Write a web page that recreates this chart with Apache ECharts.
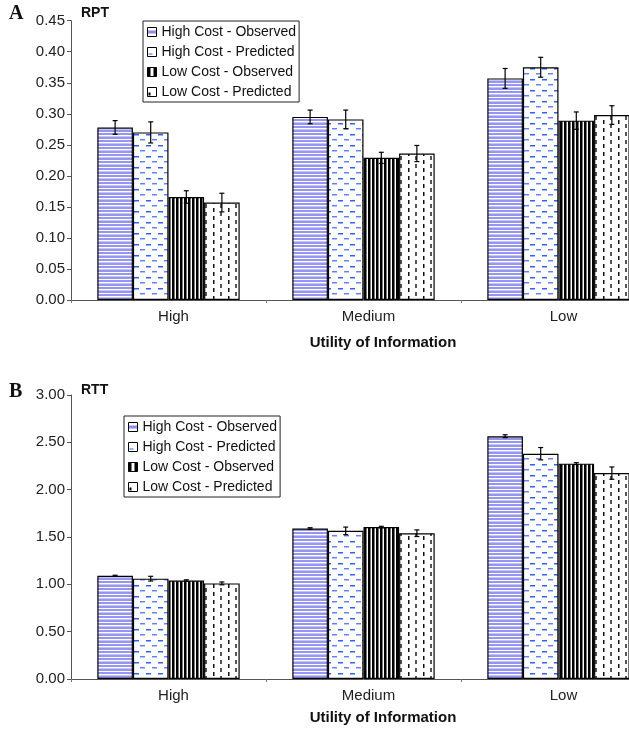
<!DOCTYPE html>
<html>
<head>
<meta charset="utf-8">
<script src="https://cdn.jsdelivr.net/npm/echarts@6/dist/echarts.min.js"></script>
<style>html,body{margin:0;padding:0;background:#fff;overflow:hidden;width:629px;height:730px;}#c{width:660px;height:730px;}</style>
</head>
<body>
<div id="c"></div>
<script>
// ---- data ----
const categories = ['High', 'Medium', 'Low'];
const seriesNames = ['High Cost - Observed', 'High Cost - Predicted', 'Low Cost - Observed', 'Low Cost - Predicted'];
const rptTicksMax = 0.45, rptInterval = 0.05;
const rttTicksMax = 3.0, rttInterval = 0.5;

const rptHCO = [0.278, 0.295, 0.357];
const rptHCP = [0.270, 0.291, 0.375];
const rptLCO = [0.166, 0.229, 0.289];
const rptLCP = [0.157, 0.236, 0.298];
const rptHCOerr = [0.011, 0.011, 0.016];
const rptHCPerr = [0.017, 0.015, 0.016];
const rptLCOerr = [0.010, 0.009, 0.014];
const rptLCPerr = [0.015, 0.013, 0.015];

const rttHCO = [1.09, 1.59, 2.565];
const rttHCP = [1.06, 1.565, 2.38];
const rttLCO = [1.04, 1.605, 2.275];
const rttLCP = [1.01, 1.54, 2.175];
const rttHCOerr = [0.006, 0.008, 0.015];
const rttHCPerr = [0.025, 0.04, 0.065];
const rttLCOerr = [0.008, 0.008, 0.010];
const rttLCPerr = [0.015, 0.035, 0.065];

// ---- patterns ----
function mk(w, h, draw) {
  const c = document.createElement('canvas');
  c.width = w; c.height = h;
  const g = c.getContext('2d');
  g.fillStyle = '#fff'; g.fillRect(0, 0, w, h);
  draw(g);
  return { image: c, repeat: 'repeat' };
}
const patHCO = mk(4, 7, g => {
  g.fillStyle = '#9696f0'; g.fillRect(0, 0, 4, 2); g.fillRect(0, 4, 4, 2);
  g.fillStyle = '#c4c4f8'; g.fillRect(0, 3, 4, 1);
});
const patHCP = mk(12, 11, g => {
  g.fillStyle = '#2f62f5'; g.fillRect(2, 2, 5, 1);
  g.fillStyle = '#9ab0ff'; g.fillRect(2, 3, 5, 1);
  g.fillStyle = '#5f82ff'; g.fillRect(8, 7, 4, 1); g.fillRect(0, 7, 1, 1);
  g.fillStyle = '#b4c4ff'; g.fillRect(8, 8, 4, 1); g.fillRect(0, 8, 1, 1);
});
const patLCO = mk(4, 1, g => { g.fillStyle = '#000'; g.fillRect(0, 0, 2, 1); g.fillStyle = '#777'; g.fillRect(2, 0, 1, 1); });
const patLCP = mk(15, 8, g => {
  g.fillStyle = '#111'; g.fillRect(3, 0, 1, 4);
  g.fillStyle = '#888'; g.fillRect(4, 0, 1, 4);
  g.fillStyle = '#555'; g.fillRect(10, 4, 2, 4);
});
const patterns = [patHCO, patHCP, patLCO, patLCP];

// legend icon swatches
const icoHCO = mk(9, 9, g => { g.fillStyle = '#8c8cf0'; g.fillRect(0, 3, 9, 3); });
const icoHCP = mk(9, 9, g => { g.fillStyle = '#2f62f5'; g.fillRect(1, 6, 4, 1); });
const icoLCO = mk(9, 9, g => { g.fillStyle = '#000'; g.fillRect(0, 0, 9, 9); g.fillStyle = '#fff'; g.fillRect(3, 0, 3, 9); });
const icoLCP = mk(9, 9, g => { g.fillStyle = '#000'; g.fillRect(1, 5, 2, 3); });
const icons = [icoHCO, icoHCP, icoLCO, icoLCP];

const rpt = [rptHCO, rptHCP, rptLCO, rptLCP];
const rptErr = [rptHCOerr, rptHCPerr, rptLCOerr, rptLCPerr];
const rtt = [rttHCO, rttHCP, rttLCO, rttLCP];
const rttErr = [rttHCOerr, rttHCPerr, rttLCOerr, rttLCPerr];

const GAP = 0.27;
const font = 'Liberation Sans, Arial, Helvetica, sans-serif';

function errSeries(idx, vals, errs) {
  const data = [];
  for (let s = 0; s < 4; s++) for (let c = 0; c < 3; c++) data.push([c, vals[s][c], errs[s][c], s]);
  return {
    type: 'custom', name: 'err' + idx, xAxisIndex: idx, yAxisIndex: idx, z: 10,
    encode: { x: 0, y: 1 },
    data: data,
    renderItem: function (params, api) {
      const c = api.value(0), v = api.value(1), e = api.value(2), s = api.value(3);
      const band = api.size([1, 0])[0];
      const bw = band * (1 - GAP) / 4;
      const off = -bw * 2 + bw * (s + 0.5);
      const top = api.coord([c, v + e]);
      const bot = api.coord([c, v - e]);
      const x = top[0] + off;
      const hw = 2.5;
      const st = { stroke: '#000', lineWidth: 1.2 };
      return {
        type: 'group', children: [
          { type: 'line', shape: { x1: x, y1: top[1], x2: x, y2: bot[1] }, style: st },
          { type: 'line', shape: { x1: x - hw, y1: top[1], x2: x + hw, y2: top[1] }, style: st },
          { type: 'line', shape: { x1: x - hw, y1: bot[1], x2: x + hw, y2: bot[1] }, style: st }
        ]
      };
    }
  };
}

const series = [];
[rpt, rtt].forEach((set, gi) => {
  set.forEach((vals, s) => {
    series.push({
      type: 'bar', name: seriesNames[s], xAxisIndex: gi, yAxisIndex: gi,
      data: vals, barGap: '0%', barCategoryGap: (GAP * 100) + '%',
      itemStyle: { color: patterns[s], borderColor: '#000', borderWidth: 1.2 },
      emphasis: { disabled: true }
    });
  });
});
series.push(errSeries(0, rpt, rptErr));
series.push(errSeries(1, rtt, rttErr));

function xAxis(gi) {
  return {
    type: 'category', gridIndex: gi, data: categories,
    axisLine: { lineStyle: { color: '#555', width: 1 } },
    axisTick: { show: true, length: 3, lineStyle: { color: '#777' } },
    axisLabel: { fontFamily: font, fontSize: 15, color: '#222', margin: 9, padding: [0, 0, 0, 10] }
  };
}
function yAxis(gi, max, interval) {
  return {
    type: 'value', gridIndex: gi, min: 0, max: max, interval: interval,
    splitLine: { show: false },
    axisLine: { show: true, lineStyle: { color: '#555', width: 1 } },
    axisTick: { show: true, length: 4, lineStyle: { color: '#555' } },
    axisLabel: { fontFamily: font, fontSize: 15, color: '#222', margin: 6, formatter: v => v.toFixed(2) }
  };
}
function legend(left, top) {
  return {
    data: seriesNames.map((n, i) => ({ name: n, itemStyle: { color: icons[i], borderColor: '#000', borderWidth: 1 } })),
    orient: 'vertical', left: left, top: top,
    backgroundColor: '#fff', borderColor: '#222', borderWidth: 1,
    padding: [4, 3, 3, 4], itemWidth: 9, itemHeight: 9, itemGap: 6,
    icon: 'rect', selectedMode: false,
    textStyle: { fontFamily: font, fontSize: 14, color: '#111', lineHeight: 14 }
  };
}

const chart = echarts.init(document.getElementById('c'), null, { renderer: 'canvas' });
chart.setOption({
  animation: false,
  backgroundColor: '#fff',
  grid: [
    { left: 71, top: 20.7, width: 585, height: 279.3 },
    { left: 71, top: 395, width: 585, height: 284 }
  ],
  xAxis: [xAxis(0), xAxis(1)],
  yAxis: [yAxis(0, rptTicksMax, rptInterval), yAxis(1, rttTicksMax, rttInterval)],
  legend: [legend(143, 21), legend(124, 416)],
  series: series,
  graphic: [
    { type: 'text', x: 9, y: 4, style: { text: 'A', font: 'bold 20px "Liberation Serif", "Times New Roman", serif', fill: '#111' } },
    { type: 'text', x: 81, y: 6, style: { text: 'RPT', font: 'bold 14px ' + font, fill: '#111' } },
    { type: 'text', x: 9, y: 382, style: { text: 'B', font: 'bold 20px "Liberation Serif", "Times New Roman", serif', fill: '#111' } },
    { type: 'text', x: 81, y: 383, style: { text: 'RTT', font: 'bold 14px ' + font, fill: '#111' } },
    { type: 'text', x: 383, y: 343, style: { text: 'Utility of Information', font: 'bold 15px ' + font, fill: '#111', align: 'center', verticalAlign: 'middle' } },
    { type: 'text', x: 383, y: 718, style: { text: 'Utility of Information', font: 'bold 15px ' + font, fill: '#111', align: 'center', verticalAlign: 'middle' } }
  ]
});
</script>
</body>
</html>
